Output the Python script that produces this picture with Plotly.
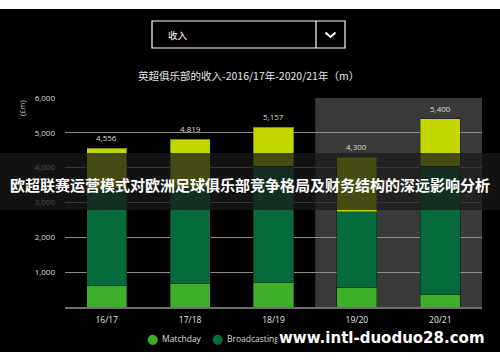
import plotly.graph_objects as go

# ---- data ----
seasons = ["16/17", "17/18", "18/19", "19/20", "20/21"]
matchday = [606, 680, 692, 548, 346]
broadcasting = [2798, 2750, 3346, 2192, 3692]
commercial = [1152, 1389, 1119, 1560, 1362]
totals = [4556, 4819, 5157, 4300, 5400]
series_names = ["Matchday", "Broadcasting", "Commercial"]
series_colors = ["#3fae2b", "#066b3a", "#c4d600"]
y_ticks = [1000, 2000, 3000, 4000, 5000, 6000]

# ---- geometry helpers (pixel -> paper) ----
W, H = 500, 362
L, R, T, B = 65, 482, 98, 307
def px(x):
    return (x - L) / (R - L)
def py(y):
    return (B - y) / (B - T)

CJK = "Noto Sans CJK SC"
LAT = "Open Sans"

fig = go.Figure()
for name, vals, col in zip(series_names, [matchday, broadcasting, commercial], series_colors):
    fig.add_trace(go.Bar(
        x=seasons, y=vals, name=name, marker_color=col,
        marker_line=dict(color="rgba(0,0,0,0.35)", width=1),
        width=0.48, showlegend=False, hoverinfo="skip"))

shapes = [
    # projected-seasons shading
    dict(type="rect", xref="x", yref="y", x0=2.5, x1=4.5, y0=0, y1=6000,
         fillcolor="#3a3a3a", line_width=0, layer="below"),
    # white strips at top and bottom
    dict(type="rect", xref="paper", yref="paper", x0=px(0), x1=px(500), y0=py(9), y1=py(0),
         fillcolor="white", line_width=0, layer="above"),
    dict(type="rect", xref="paper", yref="paper", x0=px(0), x1=px(500), y0=py(362), y1=py(352),
         fillcolor="white", line_width=0, layer="above"),
    # dropdown box
    dict(type="rect", xref="paper", yref="paper", x0=px(152), x1=px(345), y0=py(48), y1=py(21),
         line=dict(color="white", width=1.2), fillcolor="rgba(0,0,0,0)", layer="above"),
    dict(type="line", xref="paper", yref="paper", x0=px(316), x1=px(316), y0=py(48), y1=py(21),
         line=dict(color="white", width=1.2), layer="above"),
    dict(type="path", xref="paper", yref="paper",
         path=f"M {px(325.5)},{py(32.5)} L {px(330.5)},{py(37)} L {px(335.5)},{py(32.5)}",
         line=dict(color="white", width=2), layer="above"),
    # dark overlay band
    dict(type="rect", xref="paper", yref="paper", x0=px(0), x1=px(500), y0=py(210), y1=py(153),
         fillcolor="rgba(26,26,26,0.74)", line_width=0, layer="above"),
]

ann = []
# totals above bars
for s, t in zip(seasons, totals):
    ann.append(dict(x=s, y=t, xref="x", yref="y", text=f"{t:,}", showarrow=False,
                    yanchor="bottom", yshift=3, font=dict(family=LAT, size=8, color="#dcdcdc")))
# dropdown text
ann.append(dict(x=px(166), y=py(35), xref="paper", yref="paper", text="收入", showarrow=False,
                xanchor="left", yanchor="middle", font=dict(family=CJK, size=9.5, color="white")))
# chart title
ann.append(dict(x=px(248), y=py(75), xref="paper", yref="paper",
                text="英超俱乐部的收入-2016/17年-2020/21年（m）", showarrow=False,
                xanchor="center", yanchor="middle", font=dict(family=CJK, size=10.5, color="#e8e8e8")))
# y axis title
ann.append(dict(x=px(22), y=py(108), xref="paper", yref="paper", text="(£m)", textangle=-90,
                showarrow=False, xanchor="center", yanchor="middle",
                font=dict(family=LAT, size=7.5, color="#cfcfcf")))
# manual legend (third entry is hidden under the watermark in the reference)
leg_x = [152, 217]
for name, col, lx in zip(series_names[:2], series_colors[:2], leg_x):
    ann.append(dict(x=px(lx), y=py(338), xref="paper", yref="paper", text="●", showarrow=False,
                    xanchor="center", yanchor="middle", font=dict(family="DejaVu Sans", size=13, color=col)))
    ann.append(dict(x=px(lx + 8), y=py(338), xref="paper", yref="paper", text=name, showarrow=False,
                    xanchor="left", yanchor="middle", font=dict(family=LAT, size=8.5, color="#dcdcdc")))
# overlay headline
ann.append(dict(x=px(250), y=py(184), xref="paper", yref="paper",
                text="<b>欧超联赛运营模式对欧洲足球俱乐部竞争格局及财务结构的深远影响分析</b>",
                showarrow=False, xanchor="center", yanchor="middle",
                font=dict(family=CJK, size=15, color="white")))
# watermark
ann.append(dict(x=px(277), y=py(338), xref="paper", yref="paper",
                text="<b>www.intl-duoduo28.com</b>", showarrow=False, xanchor="left", yanchor="middle",
                bgcolor="black", borderpad=1,
                font=dict(family="DejaVu Sans", size=15, color="white")))

fig.update_layout(
    width=W, height=H, autosize=False,
    margin=dict(l=L, r=W - R, t=T, b=H - B, pad=0),
    paper_bgcolor="black", plot_bgcolor="black",
    barmode="stack", bargap=0.52,
    shapes=shapes, annotations=ann, showlegend=False,
    xaxis=dict(showgrid=False, showline=True, linecolor="#6e6e6e", linewidth=2,
               tickfont=dict(family=LAT, size=8.5, color="#e6e6e6"), ticks="",
               ticklabelstandoff=4, range=[-0.5, 4.5], fixedrange=True),
    yaxis=dict(range=[0, 6000], tickvals=y_ticks, ticktext=[f"{v:,}" for v in y_ticks],
               showgrid=True, gridcolor="#8c8c8c", gridwidth=1.3, zeroline=False, showline=False,
               tickfont=dict(family=LAT, size=8, color="#dcdcdc"), ticks="",
               ticklabelstandoff=9, fixedrange=True),
)

fig.write_html("out.html", config={"displayModeBar": False},
               post_script="document.body.style.margin='0';document.body.style.overflow='hidden';")
